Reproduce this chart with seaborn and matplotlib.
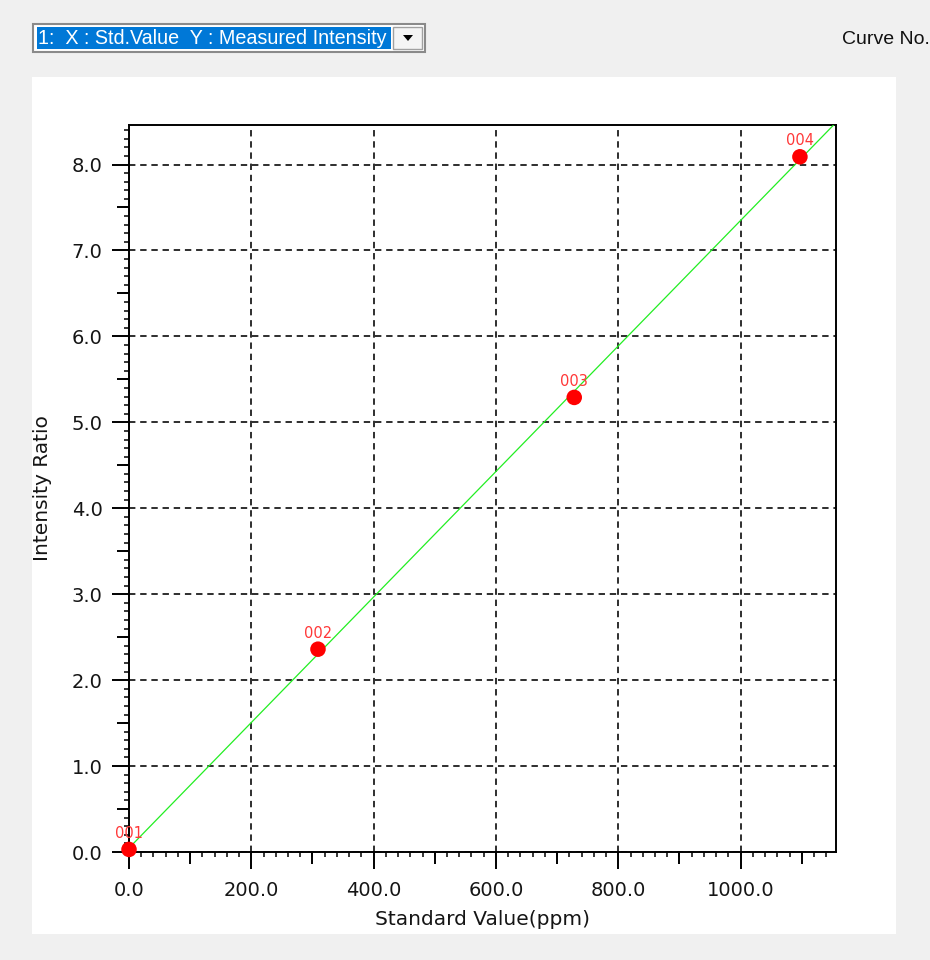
import numpy as np
import pandas as pd
import matplotlib
matplotlib.use("Agg")
import matplotlib.pyplot as plt
from matplotlib.patches import Rectangle, Polygon
from matplotlib.ticker import MultipleLocator
import seaborn as sns

# calibration standards
sample_ids = ["001", "002", "003", "004"]
std_values = [0.0, 309.0, 728.0, 1097.0]
intensity_ratios = [0.03, 2.36, 5.29, 8.09]

x_ticks = [0, 200, 400, 600, 800, 1000]
x_tick_labels = ["0.0", "200.0", "400.0", "600.0", "800.0", "1000.0"]
y_ticks = [0, 1, 2, 3, 4, 5, 6, 7, 8]
y_tick_labels = ["0.0", "1.0", "2.0", "3.0", "4.0", "5.0", "6.0", "7.0", "8.0"]

curve_selector = "1:  X : Std.Value  Y : Measured Intensity"
curve_label = "Curve No."

df = pd.DataFrame({"sample": sample_ids, "std": std_values, "ratio": intensity_ratios})

sns.set_theme(style="ticks")
plt.rcParams['font.family'] = ['DejaVu Sans']

W, H = 930, 960
fig = plt.figure(figsize=(W / 100, H / 100), dpi=100, facecolor='#f0f0f0')


def px_rect(x0, y0, x1, y1, **kw):
    # rectangle given in screen pixels (origin top-left)
    return Rectangle((x0 / W, 1 - y1 / H), (x1 - x0) / W, (y1 - y0) / H,
                     transform=fig.transFigure, **kw)


# white chart panel
fig.add_artist(px_rect(32, 77, 896, 934, facecolor='white', edgecolor='none', zorder=0))

# combo box at the top
fig.add_artist(px_rect(33, 24, 425, 52, facecolor='white', edgecolor='#8a8a8a', lw=1.5))
fig.add_artist(px_rect(37, 27, 391, 49, facecolor='#0078d7', edgecolor='none'))
fig.add_artist(px_rect(393, 27, 422, 49, facecolor='#f4f4f4', edgecolor='#a0a0a0', lw=1))
fig.add_artist(Polygon([(403 / W, 1 - 35 / H), (413 / W, 1 - 35 / H), (408 / W, 1 - 41 / H)],
                       closed=True, transform=fig.transFigure, facecolor='black', edgecolor='none'))
fig.text(38 / W, 1 - 38 / H, curve_selector, color='white', fontsize=14.2,
         family=['Liberation Sans', 'DejaVu Sans'], va='center', ha='left')
fig.text(842 / W, 1 - 40 / H, curve_label, color='#111111', fontsize=14,
         family=['Liberation Sans', 'DejaVu Sans'], va='center', ha='left')

# plot area
ax = fig.add_axes([129 / W, 1 - 852 / H, (836 - 129) / W, (852 - 125) / H])
ax.set_facecolor('white')
ax.set_xlim(0, 1156)
ax.set_ylim(0, 8.46)

sns.regplot(data=df, x="std", y="ratio", ax=ax, scatter=False, ci=None, truncate=False,
            line_kws=dict(color='#22ee22', lw=0.9, zorder=3))
sns.scatterplot(data=df, x="std", y="ratio", ax=ax, color='#ff0000', s=125, marker='o',
                edgecolor='none', zorder=5, clip_on=False, legend=False)

for sid, xv, yv in zip(sample_ids, std_values, intensity_ratios):
    ax.annotate(sid, (xv, yv), xytext=(0, 11.5), textcoords='offset points',
                ha='center', va='center', fontsize=10.5, color='#ff3838',
                annotation_clip=False, zorder=6)

ax.set_xticks(x_ticks, x_tick_labels)
ax.set_yticks(y_ticks, y_tick_labels)
ax.xaxis.set_minor_locator(MultipleLocator(20))
ax.yaxis.set_minor_locator(MultipleLocator(0.1))
ax.tick_params(which='major', direction='out', length=12, width=1.4, colors='black',
               labelsize=14, labelcolor='#151515')
ax.tick_params(axis='x', which='major', pad=9)
ax.tick_params(axis='y', which='major', pad=7)
ax.tick_params(which='minor', direction='out', length=3.8, width=1.1, colors='black')

# half-step ticks (100 ppm, 0.5 ratio) are a bit longer than the minor ones
secx = ax.secondary_xaxis('bottom')
secx.set_xticks(np.arange(100, 1156, 200))
secx.tick_params(length=8.5, width=1.4, labelbottom=False, colors='black')
secx.spines['bottom'].set_visible(False)
secy = ax.secondary_yaxis('left')
secy.set_yticks(np.arange(0.5, 8.46, 1.0))
secy.tick_params(length=8.5, width=1.4, labelleft=False, colors='black')
secy.spines['left'].set_visible(False)

for sp in ax.spines.values():
    sp.set_color('black')
    sp.set_linewidth(1.4)

ax.set_axisbelow(True)
ax.grid(True, which='major', color='black', linestyle=(0, (4, 3)), linewidth=1.15)

ax.set_xlabel("Standard Value(ppm)", fontsize=14.5, color='#151515', labelpad=7)
ax.set_ylabel("Intensity Ratio", fontsize=14.5, color='#151515', labelpad=14)

fig.savefig('out.png', dpi=100, facecolor=fig.get_facecolor())
